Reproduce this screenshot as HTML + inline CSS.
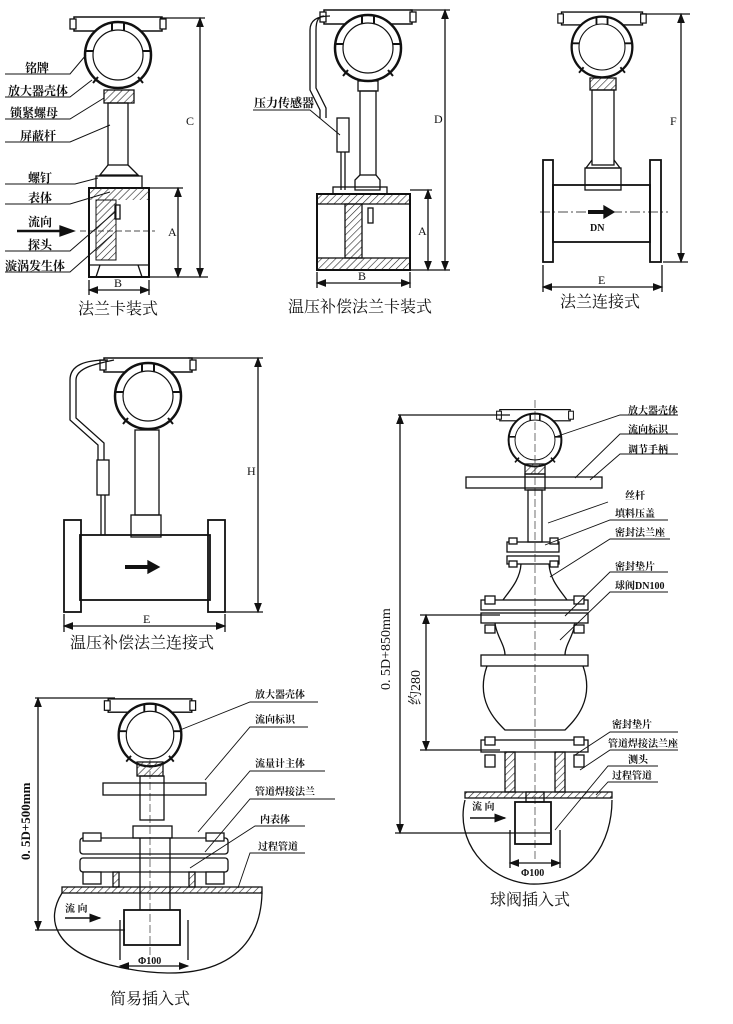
<!DOCTYPE html>
<html><head><meta charset="utf-8"><style>
html,body{margin:0;padding:0;background:#fff}
svg{display:block}
text{font-family:"Liberation Serif","Noto Serif CJK SC",serif;fill:#111}
.l{font-size:12px;font-weight:bold}
.s{font-size:10px;font-weight:bold}
.t{font-size:16px}
</style></head><body>
<svg width="733" height="1024" viewBox="0 0 733 1024" xmlns="http://www.w3.org/2000/svg">
<defs>
<pattern id="h" width="5" height="5" patternUnits="userSpaceOnUse" patternTransform="rotate(45)"><line x1="0" y1="0" x2="0" y2="5" stroke="#222" stroke-width="1.2"/></pattern>
<marker id="a" markerWidth="8" markerHeight="8" refX="7" refY="4" orient="auto"><path d="M0,1 L8,4 L0,7z" fill="#111"/></marker>
<marker id="a2" markerWidth="8" markerHeight="8" refX="1" refY="4" orient="auto"><path d="M8,1 L0,4 L8,7z" fill="#111"/></marker>
<g id="head">
<rect x="-44" y="-38" width="88" height="14" fill="#fff" stroke="#111" stroke-width="1.5"/>
<rect x="-48" y="-36" width="6" height="10" fill="#fff" stroke="#111"/>
<rect x="42" y="-36" width="6" height="10" fill="#fff" stroke="#111"/>
<circle cx="0" cy="0" r="33" fill="#fff" stroke="#111" stroke-width="2.5"/>
<circle cx="0" cy="0" r="25" fill="#fff" stroke="#111" stroke-width="1.2"/>
<path d="M-6,-33 L-6,-24 M6,-33 L6,-24 M-33,-4 L-25,-4 M25,-4 L33,-4 M-20,22 L-25,28 M20,22 L25,28" stroke="#111" stroke-width="2"/>
</g>
</defs>
<g fill="none" stroke="#111" stroke-width="1.3">

<!-- Diagram 1 -->
<use href="#head" x="118" y="55"/>
<rect x="104" y="90" width="30" height="13" fill="url(#h)"/>
<rect x="108" y="103" width="20" height="62"/>
<path d="M108,165 L100,175 L138,175 L128,165"/>
<rect x="96" y="176" width="46" height="12"/>
<rect x="89" y="188" width="60" height="89" stroke-width="2"/>
<rect x="89" y="188" width="60" height="12" fill="url(#h)" stroke="none"/>
<rect x="96" y="200" width="20" height="60" fill="url(#h)" stroke-width="1"/>
<path d="M89,265 L149,265 M96,277 L100,265 M142,277 L138,265"/>
<rect x="115" y="205" width="5" height="14"/>
<path d="M200,18 V277" marker-start="url(#a2)" marker-end="url(#a)"/>
<path d="M160,18 H205 M150,277 H208 M150,188 H183"/>
<path d="M178,188 V277" marker-start="url(#a2)" marker-end="url(#a)"/>
<path d="M89,280 V295 M149,280 V295"/>
<path d="M89,290 H149" marker-start="url(#a2)" marker-end="url(#a)"/>
<g stroke-width="1">
<path d="M5,74 H70 L86,55 M5,97 H70 L92,80 M5,119 H70 L104,98 M5,142 H70 L110,125 M5,184 H75 L98,178 M5,204 H70 L110,192 M5,251 H70 L115,212 M5,272 H70 L112,235"/>
</g>
<path d="M17,231 H62" stroke-width="2.5"/>
<path d="M60,226 L74,231 L60,236z" fill="#111"/>
<path d="M80,231 H155" stroke-dasharray="6,3" stroke-width="0.8"/>

<!-- Diagram 2 -->
<use href="#head" x="368" y="48"/>
<rect x="358" y="81" width="20" height="10"/>
<rect x="360" y="91" width="16" height="84"/>
<path d="M360,175 L355,180 L355,190 L380,190 L380,180 L376,175"/>
<path d="M330,16 C315,16 310,22 310,30 V90 L320,110 V118 M324,16 C318,16 316,22 316,30 V88 L326,108 V118"/>
<rect x="337" y="118" width="12" height="34"/>
<path d="M341,152 V190 M345,152 V190"/>
<rect x="333" y="187" width="54" height="7"/>
<rect x="317" y="194" width="93" height="76" stroke-width="2"/>
<rect x="317" y="194" width="93" height="10" fill="url(#h)"/>
<rect x="317" y="258" width="93" height="12" fill="url(#h)"/>
<rect x="345" y="204" width="17" height="54" fill="url(#h)"/>
<rect x="368" y="208" width="5" height="15"/>
<path d="M410,10 H450 M410,270 H450 M410,190 H432"/>
<path d="M445,10 V270" marker-start="url(#a2)" marker-end="url(#a)"/>
<path d="M428,190 V270" marker-start="url(#a2)" marker-end="url(#a)"/>
<path d="M317,272 V288 M410,272 V288"/>
<path d="M317,283 H410" marker-start="url(#a2)" marker-end="url(#a)"/>
<path d="M253,110 H310 L340,135" stroke-width="1"/>

<!-- Diagram 3 -->
<g transform="translate(602,47) scale(0.92)"><use href="#head"/></g>
<rect x="590" y="78" width="26" height="12" fill="url(#h)"/>
<rect x="592" y="90" width="22" height="75"/>
<path d="M592,160 L586,168 L620,168 L614,160"/>
<rect x="585" y="168" width="36" height="22"/>
<rect x="553" y="185" width="97" height="57" stroke-width="1.8"/>
<rect x="543" y="160" width="10" height="102" stroke-width="1.8"/>
<rect x="650" y="160" width="11" height="102" stroke-width="1.8"/>
<path d="M540,212 H668" stroke-dasharray="10,3,2,3" stroke-width="0.7"/>
<path d="M588,212 H606" stroke-width="4"/>
<path d="M604,206 L614,212 L604,218z" fill="#111"/>
<path d="M640,14 H690 M663,262 H688"/>
<path d="M681,14 V262" marker-start="url(#a2)" marker-end="url(#a)"/>
<path d="M543,265 V292 M662,265 V292"/>
<path d="M543,287 H662" marker-start="url(#a2)" marker-end="url(#a)"/>

<!-- Diagram 4 -->
<use href="#head" x="148" y="396"/>
<rect x="135" y="430" width="24" height="85"/>
<rect x="131" y="515" width="30" height="22"/>
<path d="M108,360 C85,360 70,365 70,380 V420 L98,445 V460 M114,360 C95,364 76,368 76,380 V418 L104,443 V460"/>
<rect x="97" y="460" width="12" height="35"/>
<path d="M101,495 V535 M105,495 V535"/>
<rect x="80" y="535" width="130" height="65" stroke-width="1.8"/>
<rect x="64" y="520" width="17" height="92" stroke-width="1.8"/>
<rect x="208" y="520" width="17" height="92" stroke-width="1.8"/>
<path d="M125,567 H150" stroke-width="4"/>
<path d="M148,561 L159,567 L148,573z" fill="#111"/>
<path d="M188,358 H263 M225,612 H263"/>
<path d="M258,358 V612" marker-start="url(#a2)" marker-end="url(#a)"/>
<path d="M64,614 V632 M225,614 V632"/>
<path d="M64,626 H225" marker-start="url(#a2)" marker-end="url(#a)"/>

<!-- Diagram 5 ball valve -->
<g transform="translate(535,440) scale(0.8)"><use href="#head"/></g>
<rect x="525" y="464" width="20" height="10" fill="url(#h)"/>
<rect x="466" y="477" width="136" height="11"/>
<rect x="525" y="474" width="20" height="16"/>
<rect x="528" y="490" width="14" height="52"/>
<rect x="507" y="542" width="52" height="10"/>
<rect x="507" y="556" width="52" height="8"/>
<path d="M521,564 C520,580 510,590 503,600 M549,564 C550,580 560,590 567,600"/>
<rect x="481" y="600" width="107" height="10"/>
<rect x="481" y="613" width="107" height="10"/>
<path d="M495,623 C496,635 505,645 505,655 M575,623 C574,635 565,645 565,655"/>
<rect x="481" y="655" width="107" height="11"/>
<path d="M487,666 C475,700 495,720 505,730 H565 C575,720 595,700 583,666"/>
<rect x="481" y="740" width="107" height="12"/>
<rect x="505" y="752" width="10" height="40" fill="url(#h)"/>
<rect x="555" y="752" width="10" height="40" fill="url(#h)"/>
<rect x="465" y="792" width="147" height="6" fill="url(#h)"/>
<rect x="526" y="792" width="18" height="10"/>
<rect x="515" y="802" width="36" height="42" stroke-width="1.8"/>
<path d="M465,800 C455,840 485,880 530,884 C590,886 612,840 612,800"/>
<path d="M535,400 V860" stroke-width="0.6" stroke-dasharray="8,3"/>
<g fill="#fff"><rect x="485" y="596" width="10" height="8"/><rect x="574" y="596" width="10" height="8"/><rect x="485" y="625" width="10" height="8"/><rect x="574" y="625" width="10" height="8"/><rect x="485" y="737" width="10" height="8"/><rect x="574" y="737" width="10" height="8"/><rect x="485" y="755" width="10" height="12"/><rect x="574" y="755" width="10" height="12"/><rect x="509" y="538" width="8" height="6"/><rect x="550" y="538" width="8" height="6"/><rect x="509" y="561" width="8" height="6"/><rect x="550" y="561" width="8" height="6"/></g>
<path d="M398,415 H510 M395,833 H550"/>
<path d="M400,415 V833" marker-start="url(#a2)" marker-end="url(#a)"/>
<path d="M420,615 H500 M420,750 H500"/>
<path d="M426,615 V750" marker-start="url(#a2)" marker-end="url(#a)"/>
<path d="M510,868 V830 M560,868 V830"/>
<path d="M510,863 H560" marker-start="url(#a2)" marker-end="url(#a)"/>
<path d="M470,818 H505" stroke-width="1.5" marker-end="url(#a)"/>
<g stroke-width="0.9">
<path d="M678,415 H620 L555,437 M678,434 H620 L575,478 M678,454 H620 L590,480 M608,502 L548,523 M668,520 H610 L545,545 M670,539 H610 L550,577 M668,572 H610 L565,616 M668,592 H610 L560,640 M678,732 H610 L575,755 M678,750 H610 L580,770 M658,766 H608 L555,830 M658,782 H608 L596,795"/>
</g>

<!-- Diagram 6 simple insertion -->
<g transform="translate(150,735) scale(0.95)"><use href="#head"/></g>
<rect x="137" y="762" width="26" height="14" fill="url(#h)"/>
<rect x="103" y="783" width="103" height="12"/>
<rect x="140" y="776" width="24" height="44"/>
<rect x="133" y="826" width="39" height="12"/>
<rect x="80" y="838" width="148" height="16" rx="3"/>
<rect x="80" y="858" width="148" height="14" rx="3"/>
<g fill="#fff"><rect x="83" y="833" width="18" height="8"/><rect x="206" y="833" width="18" height="8"/><rect x="83" y="872" width="18" height="12"/><rect x="206" y="872" width="18" height="12"/></g>
<rect x="113" y="872" width="6" height="15" fill="url(#h)"/>
<rect x="189" y="872" width="6" height="15" fill="url(#h)"/>
<rect x="62" y="887" width="200" height="6" fill="url(#h)"/>
<path d="M140,838 V910 M170,838 V910"/>
<rect x="124" y="910" width="56" height="35" stroke-width="1.8"/>
<path d="M62,893 C45,920 55,950 110,965 C190,985 260,970 262,893"/>
<path d="M150,760 V955" stroke-width="0.6" stroke-dasharray="8,3"/>
<path d="M35,698 H115 M35,930 H125"/>
<path d="M38,698 V930" marker-start="url(#a2)" marker-end="url(#a)"/>
<path d="M120,960 V920 M188,960 V920"/>
<path d="M120,966 H188" marker-start="url(#a2)" marker-end="url(#a)"/>
<path d="M65,918 H100" stroke-width="1.5" marker-end="url(#a)"/>
<g stroke-width="0.9">
<path d="M318,702 H250 L180,730 M308,727 H250 L205,780 M325,771 H250 L198,832 M335,799 H250 L205,852 M305,826 H255 L190,868 M305,853 H250 L238,888"/>
</g>
</g>

<!-- text -->
<g class="l">
<text x="25" y="72">铭牌</text><text x="8" y="95">放大器壳体</text><text x="10" y="117">锁紧螺母</text><text x="20" y="140">屏蔽杆</text>
<text x="28" y="182">螺钉</text><text x="28" y="202">表体</text><text x="28" y="226">流向</text><text x="28" y="249">探头</text><text x="5" y="270">漩涡发生体</text>
<text x="254" y="107">压力传感器</text>
</g>
<g font-size="12">
<text x="186" y="125">C</text><text x="168" y="236">A</text><text x="114" y="287">B</text>
<text x="434" y="123">D</text><text x="418" y="235">A</text><text x="358" y="280">B</text>
<text x="670" y="125">F</text><text x="598" y="284">E</text><text x="590" y="231" class="s">DN</text>
<text x="247" y="475">H</text><text x="143" y="623">E</text>
</g>
<g class="t">
<text x="78" y="314">法兰卡装式</text>
<text x="288" y="312">温压补偿法兰卡装式</text>
<text x="560" y="307">法兰连接式</text>
<text x="70" y="648">温压补偿法兰连接式</text>
<text x="490" y="905">球阀插入式</text>
<text x="110" y="1004">简易插入式</text>
</g>
<g class="s">
<text x="628" y="414">放大器壳体</text><text x="628" y="433">流向标识</text><text x="628" y="453">调节手柄</text>
<text x="625" y="499">丝杆</text><text x="615" y="517">填料压盖</text><text x="615" y="536">密封法兰座</text>
<text x="615" y="570">密封垫片</text><text x="615" y="589">球阀DN100</text>
<text x="612" y="728">密封垫片</text><text x="608" y="747">管道焊接法兰座</text><text x="628" y="763">测头</text><text x="612" y="779">过程管道</text>
<text x="472" y="810">流 向</text><text x="521" y="876">Φ100</text>
<text x="255" y="698">放大器壳体</text><text x="255" y="723">流向标识</text><text x="255" y="767">流量计主体</text><text x="255" y="795">管道焊接法兰</text><text x="260" y="823">内表体</text><text x="258" y="850">过程管道</text>
<text x="65" y="912">流 向</text><text x="138" y="964">Φ100</text>
</g>
<text transform="translate(390,690) rotate(-90)" font-size="14">0. 5D+850mm</text>
<text transform="translate(420,705) rotate(-90)" font-size="14">约280</text>
<text transform="translate(30,860) rotate(-90)" font-size="13" font-weight="bold">0. 5D+500mm</text>
</svg>
</body></html>
